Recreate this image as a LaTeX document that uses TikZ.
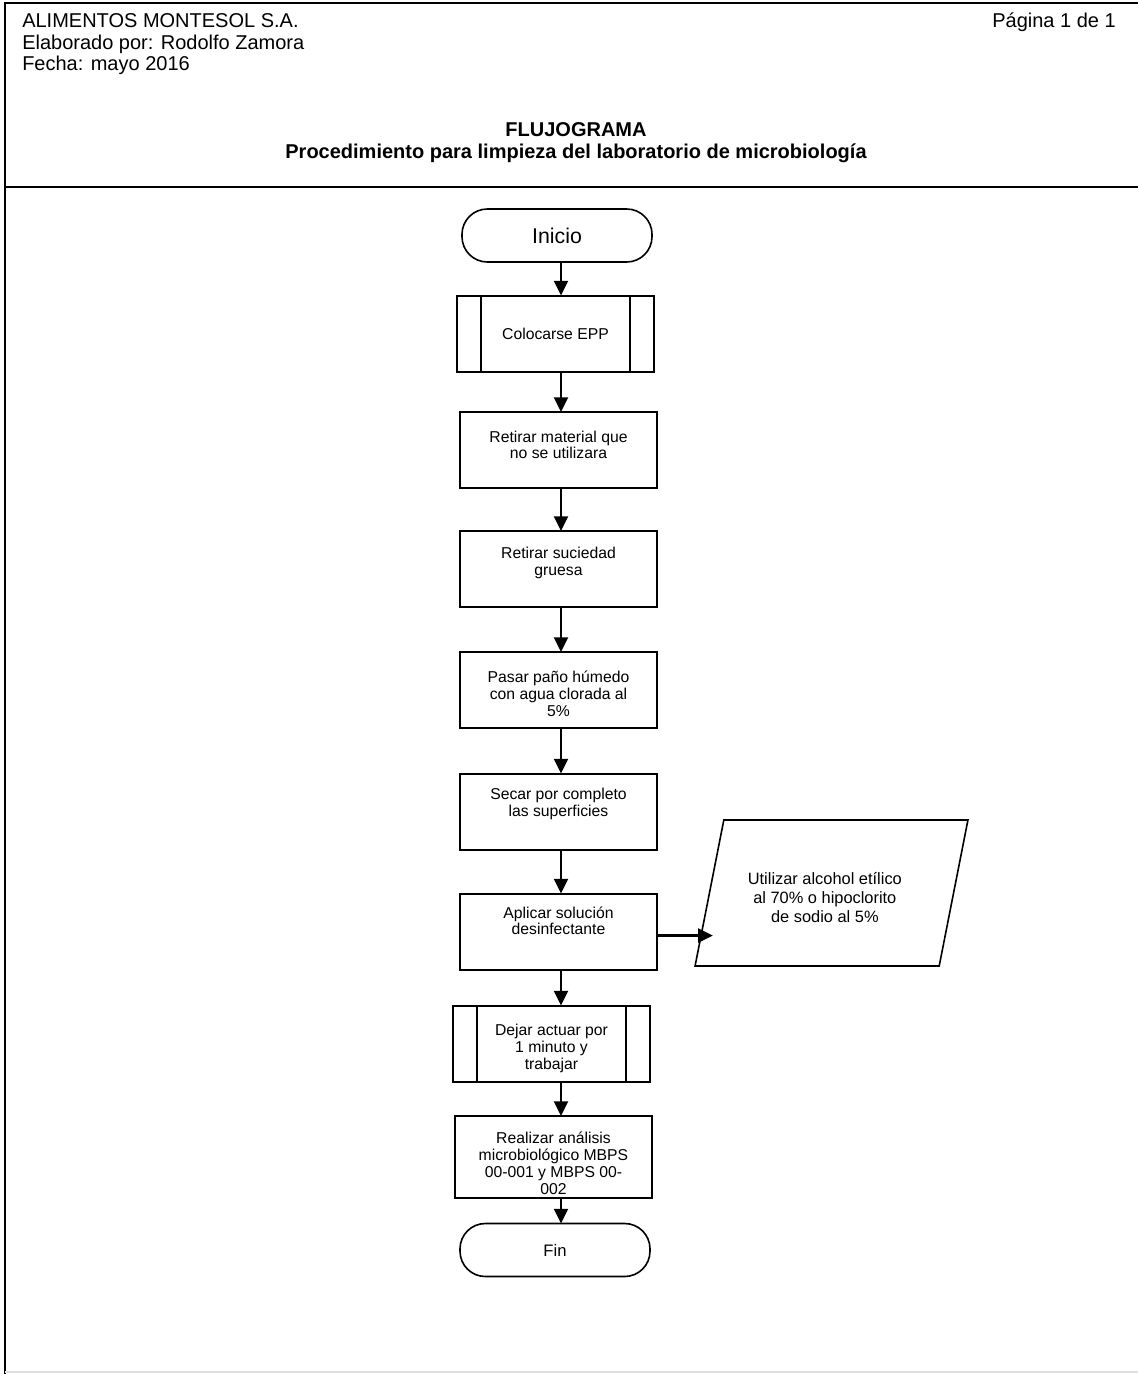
\documentclass[tikz,border=0pt]{standalone}
\usepackage{fontspec}
\setmainfont{Liberation Sans}
\usetikzlibrary{shapes.geometric,arrows.meta}

% text block pinned to the top of a process box: [box height]{top gap}{text}
\newcommand{\topbox}[3][57pt]{\begin{minipage}[c][#1][t]{140pt}\centering\vspace*{#2}#3\end{minipage}}

\begin{document}
\begin{tikzpicture}[x=0.75pt,y=-0.75pt,
  hdr/.style={font=\fontsize{15}{18}\selectfont, inner sep=0pt},
  hdrbold/.style={font=\fontsize{15}{18}\selectfont\bfseries, inner sep=0pt},
  stepbox/.style={draw, line width=1.5pt, inner xsep=3.875pt, inner ysep=0pt, outer sep=0pt,
    font=\fontsize{11.8}{12.6}\selectfont},
  onebox/.style={draw, line width=1.5pt, minimum width=147.75pt, minimum height=57pt, inner sep=0pt, outer sep=0pt,
    font=\fontsize{11.8}{12.6}\selectfont},
  term/.style={draw, line width=1.2pt, rounded corners=19pt, minimum width=142.5pt, minimum height=39.75pt,
    inner sep=0pt, outer sep=0pt},
  io/.style={draw, line width=1.2pt, trapezium, trapezium left angle=68, trapezium right angle=112,
    trapezium stretches=true, minimum width=204.75pt, minimum height=109.5pt, inner sep=0pt, outer sep=0pt,
    font=\fontsize{12.3}{14.2}\selectfont},
  arr/.style={line width=1.6pt, -{Triangle[length=11pt,width=10.5pt]}}
]
\useasboundingbox (0,0) rectangle (1138,1374);

% page frame and header rule
\draw[line width=2pt] (1138,3) -- (5,3) -- (5,1374);
\draw[line width=2.2pt] (5,187) -- (1138,187);
\draw[gray!25, line width=1pt] (5,1372) -- (1138,1372);

% header
\node[hdr, anchor=base west] (co) at (22,27) {ALIMENTOS MONTESOL S.A.};
\node[hdr, anchor=base west] (el) at (22,49) {Elaborado por: Rodolfo Zamora};
\node[hdr, anchor=base west] (fe) at (22,70.5) {Fecha: mayo 2016};
\node[hdr, anchor=base east] (pg) at (1116,27) {Página 1 de 1};
\node[hdrbold, anchor=base] (t1) at (576,136) {FLUJOGRAMA};
\node[hdrbold, anchor=base] (t2) at (576,158) {Procedimiento para limpieza del laboratorio de microbiología};

% flow
\node[term, font=\fontsize{16}{19}\selectfont] (ini) at (557,235.5) {Inicio};
\node[onebox] (epp) at (555.5,333.5) {Colocarse EPP};
\node[stepbox] (s1) at (558.5,450) {\topbox{14pt}{Retirar material que\\no se utilizara}};
\node[stepbox] (s2) at (558.5,569) {\topbox{11.9pt}{Retirar suciedad\\gruesa}};
\node[stepbox] (s3) at (558.5,690) {\topbox{14.5pt}{Pasar paño húmedo\\con agua clorada al\\5\%}};
\node[stepbox] (s4) at (558.5,811.5) {\topbox{11.1pt}{Secar por completo\\las superficies}};
\node[stepbox] (ap) at (558.5,931.5) {\topbox{9.8pt}{Aplicar solución\\desinfectante}};
\node[io] (par) at (831.5,893)
  {\parbox{125pt}{\centering\vspace*{7pt}Utilizar alcohol etílico\\al 70\% o hipoclorito\\de sodio al 5\%}\hspace*{10pt}};
\node[stepbox] (dej) at (551.5,1043.5) {\topbox{14pt}{Dejar actuar por\\1 minuto y\\trabajar}};
\node[stepbox, font=\fontsize{11.8}{12.75}\selectfont] (rea) at (553.5,1157)
  {\topbox[61.5pt]{11.9pt}{Realizar análisis\\microbiológico MBPS\\00-001 y MBPS 00-\\002}};
\node[term, font=\fontsize{12.5}{15}\selectfont] (fin) at (555,1250) {Fin};

% side bars of the predefined-process boxes
\foreach \n in {epp,dej}{
  \draw[line width=1.5pt] ([xshift=18pt]\n.north west) -- ([xshift=18pt]\n.south west);
  \draw[line width=1.5pt] ([xshift=-18pt]\n.north east) -- ([xshift=-18pt]\n.south east);
}

% connectors
\coordinate (ax) at (561,0);
\draw[arr] (ini.south -| ax) -- (epp.north -| ax);
\draw[arr] (epp.south -| ax) -- (s1.north -| ax);
\draw[arr] (s1.south -| ax) -- (s2.north -| ax);
\draw[arr] (s2.south -| ax) -- (s3.north -| ax);
\draw[arr] (s3.south -| ax) -- (s4.north -| ax);
\draw[arr] (s4.south -| ax) -- (ap.north -| ax);
\draw[arr] (ap.south -| ax) -- (dej.north -| ax);
\draw[arr] (dej.south -| ax) -- (rea.north -| ax);
\draw[arr] (rea.south -| ax) -- (fin.north -| ax);
% side input: from the process box to the left edge of the data shape
\path (par.bottom left corner) -- (par.top left corner) coordinate[pos=0.2] (pin);
\path ([yshift=-3pt]ap.east) coordinate (aout);
\path (aout -| pin) ++(9pt,0) coordinate (atip);
\draw[arr] (aout) -- (atip);
\end{tikzpicture}
\end{document}
